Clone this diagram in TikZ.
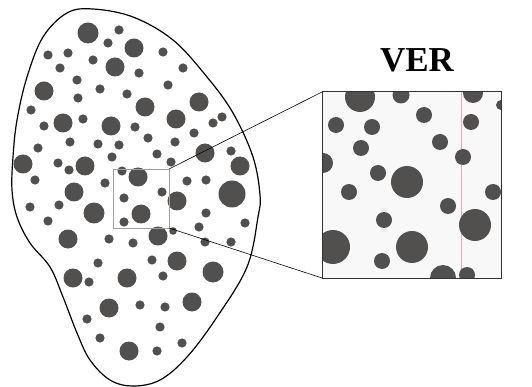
\documentclass[tikz,border=0pt]{standalone}
\usepackage{fontspec}
\setmainfont{Liberation Serif}
\begin{document}
\begin{tikzpicture}[x=1pt,y=-1pt,
  grain/.style={fill={rgb,255:red,82;green,80;blue,78}},
  outline/.style={draw=black,line width=1.2pt},
  window/.style={draw={rgb,255:red,160;green,160;blue,160},line width=0.8pt,inner sep=0pt,outer sep=0pt},
  verstyle/.style={draw={rgb,255:red,50;green,50;blue,50},line width=1pt,fill={rgb,255:red,248;green,248;blue,248},inner sep=0pt,outer sep=0pt},
  pinkline/.style={draw={rgb,255:red,238;green,170;blue,185},line width=0.7pt},
  connector/.style={draw=black,line width=0.6pt}]
\useasboundingbox (0,0) rectangle (532,387);
% blob outline
\draw[outline] plot[smooth cycle,tension=0.6] coordinates {
 (93,9) (133,17) (173,40) (207,77) (233,113) (253,157) (260,195)
 (258,217) (247,267) (217,317) (187,357) (160,380) (133,386) (110,380)
 (90,360) (77,333) (63,297) (50,267) (30,243) (17,217) (12,190)
 (13,157) (17,120) (27,77) (43,37) (67,13)};
% large grains in blob
\foreach \x/\y in {134/48,115/67,44/91,199/102,145/107,176/119,63/123,111/126,205/153,23/164,85/166,240/166,138/177,74/192,177/201,141/214,158/236,68/239,177/261,73/278,127/278,109/308,192/302,129/351}
  \fill[grain] (\x,\y) circle (9.5);
\fill[grain] (88,33) circle (10.5);
\fill[grain] (232,194) circle (13.5);
\fill[grain] (94,213) circle (10.5);
\fill[grain] (213,272) circle (10.5);
% small grains in blob
\foreach \x/\y in {119/30,108/43,48/55,68/53,93/60,163/52,60/68,139/73,183/68,77/80,100/89,168/85,127/94,78/98,31/110,83/119,135/127,222/117,213/123,44/126,194/133,70/142,98/144,119/145,148/138,175/142,38/148,231/151,157/154,112/157,58/163,171/162,69/170,122/171,35/180,105/183,187/181,206/180,162/192,124/198,30/207,59/205,48/221,124/222,206/213,199/227,245/223,109/239,133/243,205/242,231/242,152/260,98/263,89/282,163/276,140/305,165/307,87/319,160/327,100/338,157/351,182/343}
  \fill[grain] (\x,\y) circle (4.6);
\fill[grain] (173,231) circle (3.8);
% window
\node[window,minimum width=56pt,minimum height=59pt,anchor=north west] (zoomwin) at (113,169) {};
% VER box
\node[verstyle,minimum width=179pt,minimum height=186pt,anchor=north west] (verbox) at (322,92) {};
\begin{scope}
\clip (verbox.north west) rectangle (verbox.south east);
\draw[pinkline] (461.7,92) -- (461.7,278);
\foreach \x/\y/\r in {360/97/15,401/95/8.5,473/93/10,501/105/5,424/115/8,336/125/8,372/127/8,471/122/8,440/142/8,361/148/8,463/157/8,323/163/10,378/173/8,407/182/16,349/192/8,493/192/8,448/206/8,384/220/8,475/225/16,333/247/17,412/247/16,382/261/8,443/278/13,467/275/8}
  \fill[grain] (\x,\y) circle (\r);
\end{scope}
\draw[verstyle,fill=none] (verbox.north west) rectangle (verbox.south east);
% connectors
\draw[connector] (zoomwin.north east) -- (verbox.north west);
\draw[connector] (zoomwin.south east) -- (verbox.south west);
% title
\node[font=\bfseries\fontsize{35}{40}\selectfont,inner sep=0pt] (vertitle) at (417,60) {VER};
\end{tikzpicture}
\end{document}
